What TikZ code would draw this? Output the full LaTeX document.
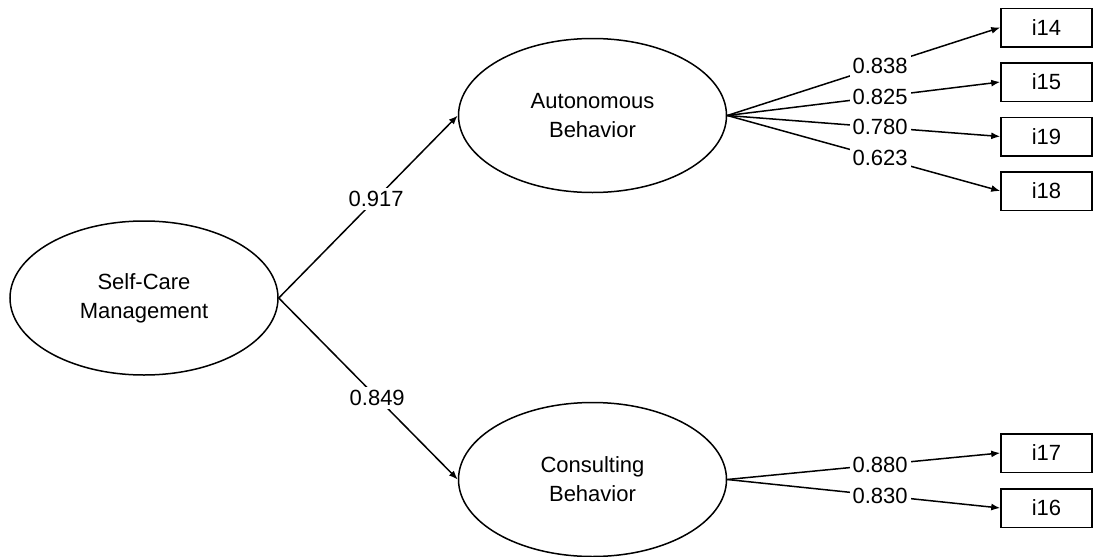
\documentclass[tikz,border=0pt]{standalone}
\usepackage{fontspec}
\setmainfont{Liberation Sans}
\usetikzlibrary{shapes.geometric,arrows.meta}
\begin{document}
\begin{tikzpicture}[x=1pt,y=-1pt,
  every node/.style={font=\fontsize{22}{29}\selectfont},
  latent/.style={ellipse,draw,line width=1.5pt,minimum width=268pt,minimum height=154pt,inner sep=0pt,align=center},
  item/.style={rectangle,draw,line width=1.5pt,minimum width=91pt,minimum height=38.5pt,inner sep=0pt},
  conn/.style={line width=1.5pt,-{Latex[length=9pt,width=7pt]}},
  coef/.style={fill=white,inner sep=3pt,pos=0.56}
]
\useasboundingbox (0,0) rectangle (1093,557);
\node[latent] (scm) at (144,298) {Self-Care\\Management};
\node[latent] (ab) at (592.5,115.5) {Autonomous\\Behavior};
\node[latent] (cb) at (592.5,479.5) {Consulting\\Behavior};
\node[item] (i14) at (1046.5,27.5) {i14};
\node[item] (i15) at (1046.5,82) {i15};
\node[item] (i19) at (1046.5,136.5) {i19};
\node[item] (i18) at (1046.5,191) {i18};
\node[item] (i17) at (1046.5,453) {i17};
\node[item] (i16) at (1046.5,508) {i16};
\draw[conn] (scm.east) -- node[coef,pos=0.544] {0.917} (ab.west);
\draw[conn] (scm.east) -- node[coef,pos=0.55] {0.849} (cb.west);
\draw[conn] (ab.east) -- node[coef] {0.838} (i14.west);
\draw[conn] (ab.east) -- node[coef] {0.825} (i15.west);
\draw[conn] (ab.east) -- node[coef] {0.780} (i19.west);
\draw[conn] (ab.east) -- node[coef] {0.623} (i18.west);
\draw[conn] (cb.east) -- node[coef] {0.880} (i17.west);
\draw[conn] (cb.east) -- node[coef] {0.830} (i16.west);
\end{tikzpicture}
\end{document}
